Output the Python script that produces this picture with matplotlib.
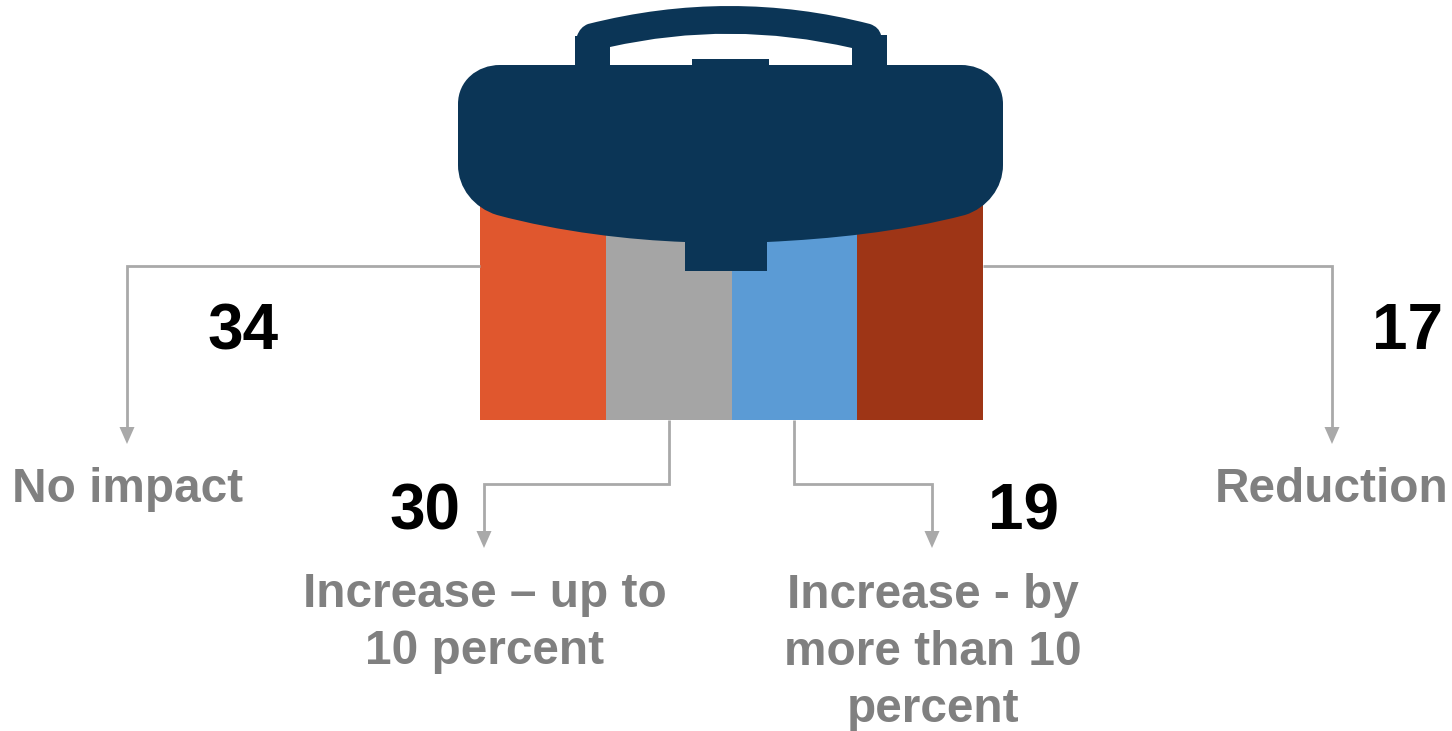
import matplotlib
matplotlib.use("Agg")
import matplotlib.pyplot as plt
from matplotlib.path import Path
from matplotlib.patches import PathPatch, Polygon

# ---- data ----
categories = ["No impact", "Increase \u2013 up to\n10 percent", "Increase - by\nmore than 10\npercent", "Reduction"]
values = [34, 30, 19, 17]
bar_colors = ["#E0572E", "#A5A5A5", "#5B9BD5", "#9E3516"]
NAVY = "#0B3556"
LINE = "#A9A9A9"
LABEL = "#808080"

W, H = 1452, 731
plt.rcParams["font.family"] = ["Liberation Sans", "DejaVu Sans"]
fig = plt.figure(figsize=(W / 100, H / 100), dpi=100, facecolor="white")

# Coloured strips of the bag (equal widths in the infographic)
bar_ax = fig.add_axes([480 / W, 1 - 420 / H, (983 - 480) / W, (420 - 195) / H])
bar_ax.bar(range(len(categories)), [1] * len(categories), width=1.0, color=bar_colors, linewidth=0)
bar_ax.set_xlim(-0.5, 3.5)
bar_ax.set_ylim(0, 1)
bar_ax.axis("off")

# Overlay in pixel units
ax = fig.add_axes([0, 0, 1, 1], zorder=3)
ax.set_xlim(0, W)
ax.set_ylim(H, 0)
ax.axis("off")
ax.patch.set_alpha(0)

M, L, C3, C4, Z = Path.MOVETO, Path.LINETO, Path.CURVE3, Path.CURVE4, Path.CLOSEPOLY

# Briefcase body with clasp and top tab
body = [
    (M, (500, 65)),
    (L, (692, 65)), (L, (692, 59)), (L, (769, 59)), (L, (769, 65)),
    (L, (961, 65)),
    (C4, (984, 65)), (C4, (1003, 81)), (C4, (1003, 104)),
    (L, (1003, 165)),
    (C4, (1003, 188)), (C4, (987, 208)), (C4, (965, 215)),
    (C4, (900, 232)), (C4, (830, 239)), (C4, (767, 242)),
    (L, (767, 271)), (L, (685, 271)), (L, (685, 242)),
    (C4, (630, 240)), (C4, (560, 232)), (C4, (497, 215)),
    (C4, (474, 208)), (C4, (458, 188)), (C4, (458, 165)),
    (L, (458, 104)),
    (C4, (458, 81)), (C4, (477, 65)), (C4, (500, 65)),
    (Z, (500, 65)),
]
codes, verts = zip(*body)
ax.add_patch(PathPatch(Path(verts, codes), facecolor=NAVY, edgecolor="none"))

# Handle
handle = [
    (M, (575, 66)), (L, (575, 36)), (L, (577, 36)),
    (C3, (580, 27)), (C3, (588, 24)),
    (C3, (730, -12)), (C3, (870, 24)),
    (C3, (879, 27)), (C3, (881, 35)),
    (L, (887, 35)), (L, (887, 66)), (L, (852, 66)), (L, (852, 48)),
    (C3, (730, 20)), (C3, (610, 47)),
    (L, (610, 66)),
    (Z, (575, 66)),
]
codes, verts = zip(*handle)
ax.add_patch(PathPatch(Path(verts, codes), facecolor=NAVY, edgecolor="none"))

# Connectors and arrow heads
connectors = [
    [(480, 266), (127, 266), (127, 430)],
    [(669, 420), (669, 484), (484, 484), (484, 534)],
    [(794, 420), (794, 484), (932, 484), (932, 534)],
    [(983, 266), (1332, 266), (1332, 430)],
]
for pts in connectors:
    xs, ys = zip(*pts)
    ax.plot(xs, ys, color=LINE, lw=2.0, solid_joinstyle="miter", solid_capstyle="butt", zorder=1)
    x, y = pts[-1]
    ax.add_patch(Polygon([(x - 7.5, y - 3), (x + 7.5, y - 3), (x, y + 14)], closed=True,
                         facecolor=LINE, edgecolor="none", zorder=2))

# Text
label_pos = [(128, 489), (485, 623), (933, 652.5), (1332, 489)]
for name, (x, y) in zip(categories, label_pos):
    ax.text(x, y, name, ha="center", va="center", fontsize=34.4, fontweight="bold",
            color=LABEL, linespacing=1.33)

value_pos = [(243, 332), (425, 513), (1023, 513), (1407, 332)]
for v, (x, y) in zip(values, value_pos):
    ax.text(x, y, str(v), ha="center", va="center", fontsize=46, fontweight="bold", color="black")

fig.savefig("out.png", dpi=100, facecolor="white")
